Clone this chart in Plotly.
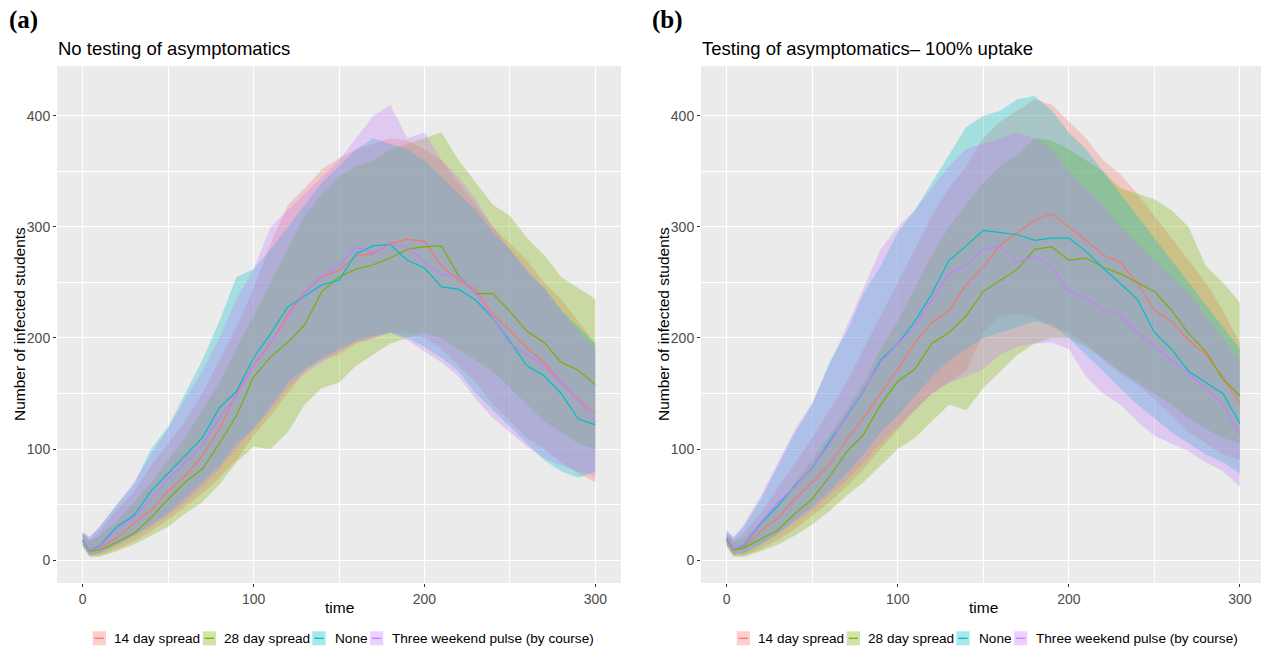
import plotly.graph_objects as go

# ---------------- data ----------------
T = [0, 4, 10, 20, 30, 40, 50, 60, 70, 80, 90, 100, 110, 120, 130, 140, 150,
     160, 170, 180, 190, 200, 210, 220, 230, 240, 250, 260, 270, 280, 290, 300]

series_names = ["14 day spread", "28 day spread", "None", "Three weekend pulse (by course)"]

# Panel (a): No testing of asymptomatics
red_a_mean = [18, 8, 11, 20, 33, 45, 62, 76, 94, 118, 150, 175, 195, 222, 242, 255, 261,
              274, 276, 285, 289, 287, 265, 252, 244, 221, 207, 191, 178, 160, 144, 133]
green_a_mean = [18, 8, 9, 16, 24, 38, 55, 70, 82, 105, 130, 165, 183, 196, 212, 242, 255,
                262, 266, 272, 280, 282, 283, 256, 240, 240, 224, 206, 196, 178, 171, 158]
cyan_a_mean = [18, 9, 13, 30, 40, 62, 78, 94, 110, 137, 152, 182, 204, 228, 238, 248, 252,
               276, 283, 284, 270, 263, 246, 244, 234, 218, 197, 175, 166, 150, 127, 122]
purple_a_mean = [18, 9, 12, 28, 38, 56, 73, 88, 104, 128, 148, 176, 196, 218, 241, 256, 265,
                 282, 277, 284, 283, 268, 257, 255, 240, 218, 195, 185, 175, 160, 145, 124]

red_a_hi = [24, 18, 26, 45, 62, 85, 105, 125, 150, 180, 210, 245, 285, 320, 335, 352, 362,
            370, 375, 380, 378, 370, 360, 340, 320, 300, 285, 270, 250, 235, 215, 195]
red_a_lo = [14, 4, 4, 10, 17, 26, 36, 48, 60, 74, 90, 112, 130, 150, 170, 180, 185,
            195, 200, 205, 205, 200, 190, 175, 160, 140, 125, 110, 100, 88, 78, 70]
green_a_hi = [24, 17, 22, 35, 52, 70, 90, 110, 135, 160, 190, 220, 250, 280, 310, 330, 345,
              355, 360, 370, 375, 380, 385, 360, 340, 320, 310, 290, 275, 255, 245, 235]
green_a_lo = [12, 3, 3, 8, 14, 22, 30, 42, 52, 68, 88, 102, 100, 115, 140, 155, 160,
              175, 185, 195, 200, 205, 200, 190, 180, 170, 155, 140, 125, 115, 105, 100]
cyan_a_hi = [25, 20, 30, 50, 68, 100, 120, 150, 180, 215, 255, 262, 280, 300, 320, 340, 355,
             370, 380, 375, 370, 360, 345, 330, 315, 295, 280, 260, 245, 225, 210, 195]
cyan_a_lo = [13, 5, 6, 14, 22, 32, 42, 56, 70, 85, 105, 118, 138, 160, 172, 182, 190,
             198, 202, 205, 200, 192, 182, 170, 150, 135, 120, 105, 90, 80, 74, 80]
purple_a_hi = [25, 21, 30, 50, 70, 95, 118, 145, 170, 200, 235, 262, 300, 315, 330, 345, 360,
               380, 400, 410, 380, 385, 360, 345, 325, 300, 280, 262, 245, 225, 205, 190]
purple_a_lo = [13, 4, 6, 13, 21, 30, 40, 52, 66, 82, 100, 118, 135, 155, 168, 178, 188,
               196, 200, 205, 198, 188, 178, 165, 145, 128, 115, 102, 92, 85, 80, 75]

# Panel (b): Testing of asymptomatics - 100% uptake
red_b_mean = [19, 9, 11, 26, 38, 55, 70, 86, 108, 128, 150, 172, 196, 214, 225, 248, 264,
              284, 295, 306, 312, 300, 288, 275, 268, 250, 225, 215, 198, 185, 165, 141]
green_b_mean = [18, 9, 11, 19, 27, 42, 55, 75, 97, 113, 140, 161, 172, 195, 205, 220, 242,
                252, 262, 280, 282, 270, 272, 264, 258, 250, 242, 225, 204, 188, 163, 148]
cyan_b_mean = [20, 10, 13, 33, 49, 67, 83, 106, 130, 152, 180, 195, 215, 240, 270, 283, 297,
               295, 293, 288, 290, 290, 278, 263, 249, 235, 205, 190, 170, 160, 150, 123]
purple_b_mean = [20, 10, 14, 34, 52, 66, 84, 104, 130, 153, 178, 195, 210, 235, 258, 265, 280,
                 283, 268, 274, 265, 242, 236, 225, 220, 205, 193, 180, 168, 155, 140, 114]

red_b_hi = [25, 18, 25, 42, 65, 88, 110, 135, 160, 190, 220, 250, 280, 310, 335, 355, 380,
            395, 405, 415, 410, 395, 380, 360, 348, 330, 310, 290, 270, 250, 225, 195]
red_b_lo = [14, 4, 4, 10, 18, 28, 40, 52, 66, 82, 100, 118, 135, 150, 160, 170, 205,
            220, 222, 218, 210, 205, 195, 180, 168, 158, 145, 130, 115, 105, 95, 90]
green_b_hi = [23, 16, 20, 34, 50, 70, 90, 112, 135, 160, 190, 215, 245, 275, 300, 320, 340,
              355, 365, 380, 378, 370, 360, 350, 335, 330, 325, 315, 300, 265, 250, 232]
green_b_lo = [12, 3, 3, 8, 14, 22, 32, 44, 58, 70, 85, 100, 110, 125, 140, 135, 155,
              170, 185, 195, 200, 200, 192, 182, 170, 160, 150, 140, 128, 118, 110, 105]
cyan_b_hi = [26, 20, 30, 55, 85, 115, 140, 178, 205, 240, 265, 295, 315, 340, 365, 390, 400,
             405, 415, 418, 405, 385, 370, 350, 330, 310, 290, 270, 250, 230, 210, 190]
cyan_b_lo = [14, 5, 6, 14, 24, 36, 48, 62, 78, 95, 115, 130, 148, 165, 180, 190, 200,
             205, 210, 215, 212, 200, 185, 170, 155, 140, 128, 115, 105, 95, 88, 78]
purple_b_hi = [27, 21, 32, 58, 88, 118, 142, 175, 210, 245, 280, 300, 315, 335, 355, 370, 375,
               380, 385, 380, 370, 350, 335, 320, 300, 285, 270, 255, 240, 220, 200, 180]
purple_b_lo = [13, 5, 6, 14, 23, 34, 45, 58, 72, 88, 105, 120, 135, 150, 160, 165, 172,
               185, 192, 195, 196, 190, 165, 150, 140, 125, 112, 105, 98, 88, 80, 66]

# ---------------- styling ----------------
colors = [(248, 118, 109), (124, 174, 0), (0, 191, 196), (199, 124, 255)]
FILL_ALPHA = 0.3
W, H = 1261, 648

panels = [
    dict(xa="x", ya="y",
         means=[red_a_mean, green_a_mean, cyan_a_mean, purple_a_mean],
         his=[red_a_hi, green_a_hi, cyan_a_hi, purple_a_hi],
         los=[red_a_lo, green_a_lo, cyan_a_lo, purple_a_lo]),
    dict(xa="x2", ya="y2",
         means=[red_b_mean, green_b_mean, cyan_b_mean, purple_b_mean],
         his=[red_b_hi, green_b_hi, cyan_b_hi, purple_b_hi],
         los=[red_b_lo, green_b_lo, cyan_b_lo, purple_b_lo]),
]

fig = go.Figure()
for p in panels:
    # ribbons first
    for i in range(4):
        r, g, b = colors[i]
        fig.add_trace(go.Scatter(
            x=T + T[::-1], y=p["his"][i] + p["los"][i][::-1],
            fill="toself", fillcolor=f"rgba({r},{g},{b},{FILL_ALPHA})",
            line=dict(width=0), mode="lines", showlegend=False, name=series_names[i],
            hoverinfo="skip", xaxis=p["xa"], yaxis=p["ya"]))
    # then the mean lines
    for i in range(4):
        r, g, b = colors[i]
        fig.add_trace(go.Scatter(
            x=T, y=p["means"][i], mode="lines", name=series_names[i],
            line=dict(color=f"rgb({r},{g},{b})", width=1.2),
            showlegend=False, xaxis=p["xa"], yaxis=p["ya"]))


def px_x(v):
    return v / W


def px_y(v):
    return 1 - v / H


ydom = [px_y(583), px_y(66)]
axis_common = dict(
    showgrid=True, gridcolor="white", gridwidth=1.1,
    zeroline=False, showline=False, automargin=False,
    ticks="outside", ticklen=3, tickwidth=1, tickcolor="#333333",
    tickfont=dict(family="Liberation Sans", size=14, color="#4D4D4D"),
    dtick=100, tick0=0,
    minor=dict(dtick=50, tick0=0, showgrid=True, gridcolor="white", gridwidth=0.5, ticks=""),
)
title_font = dict(family="Liberation Sans", size=15.5, color="black")

# ----- legends (ggplot-style, one under each panel) -----
shapes = []
annotations = []
key_left = [92.7, 202.7, 312.3, 370.0]     # layout positions of keys in panel (a)
text_left = [111.7, 221.7, 333.3, 390.0]
KEY_W, KEY_TOP, KEY_BOT, LEG_Y = 13.3, 631.3, 645.3, 638.3
for offset in (0, 644):
    for i in range(4):
        r, g, b = colors[i]
        x0 = key_left[i] + offset
        shapes.append(dict(type="rect", xref="paper", yref="paper",
                           x0=px_x(x0), x1=px_x(x0 + KEY_W), y0=px_y(KEY_BOT), y1=px_y(KEY_TOP),
                           fillcolor=f"rgba({r},{g},{b},{FILL_ALPHA + 0.05})", line=dict(width=0),
                           layer="above"))
        shapes.append(dict(type="line", xref="paper", yref="paper",
                           x0=px_x(x0 + 2), x1=px_x(x0 + KEY_W - 2), y0=px_y(LEG_Y), y1=px_y(LEG_Y),
                           line=dict(color=f"rgb({r},{g},{b})", width=1.3), layer="above"))
        annotations.append(dict(text=series_names[i], x=px_x(text_left[i] + offset), y=px_y(LEG_Y),
                                xref="paper", yref="paper", xanchor="left", yanchor="middle",
                                showarrow=False,
                                font=dict(family="Liberation Sans", size=13.6, color="black")))

# axis titles and panel titles
for offset in (0, 644):
    annotations.append(dict(text="time", x=px_x(339 + offset), y=px_y(607), xref="paper", yref="paper",
                            xanchor="center", yanchor="middle", showarrow=False, font=title_font))
    annotations.append(dict(text="Number of infected students", x=px_x(19 + offset), y=px_y(324),
                            xref="paper", yref="paper", xanchor="center", yanchor="middle",
                            textangle=-90, showarrow=False, font=title_font))

annotations += [
    dict(text="<b>(a)</b>", x=px_x(7), y=px_y(20), xref="paper", yref="paper",
         xanchor="left", yanchor="middle", showarrow=False,
         font=dict(family="Liberation Serif", size=25, color="black")),
    dict(text="<b>(b)</b>", x=px_x(650), y=px_y(20), xref="paper", yref="paper",
         xanchor="left", yanchor="middle", showarrow=False,
         font=dict(family="Liberation Serif", size=25, color="black")),
    dict(text="No testing of asymptomatics", x=px_x(56), y=px_y(48), xref="paper", yref="paper",
         xanchor="left", yanchor="middle", showarrow=False,
         font=dict(family="Liberation Sans", size=18.5, color="black")),
    dict(text="Testing of asymptomatics\u2013 100% uptake", x=px_x(700), y=px_y(48),
         xref="paper", yref="paper", xanchor="left", yanchor="middle", showarrow=False,
         font=dict(family="Liberation Sans", size=18.5, color="black")),
]

fig.update_layout(
    width=W, height=H, margin=dict(l=0, r=0, t=0, b=0, autoexpand=False),
    paper_bgcolor="white", plot_bgcolor="#EBEBEB",
    font=dict(family="Liberation Sans"),
    showlegend=False,
    xaxis=dict(domain=[px_x(57), px_x(621)], range=[-15, 315], anchor="y", **axis_common),
    yaxis=dict(domain=ydom, range=[-20.7, 445], anchor="x", **axis_common),
    xaxis2=dict(domain=[px_x(701), 1.0], range=[-15, (1261 - 726) / 1.713], anchor="y2", **axis_common),
    yaxis2=dict(domain=ydom, range=[-20.7, 445], anchor="x2", **axis_common),
    shapes=shapes,
    annotations=annotations,
)

fig.write_html("out.html")
